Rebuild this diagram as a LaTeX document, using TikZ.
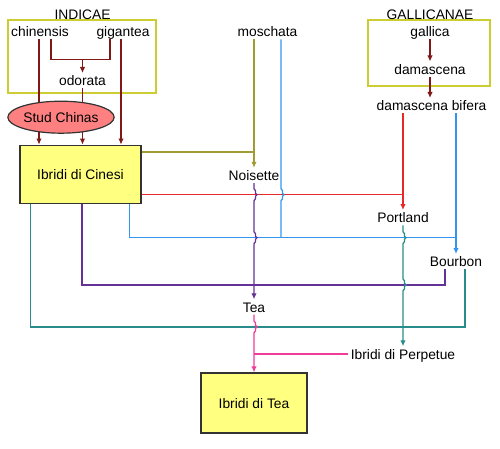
\documentclass[tikz,border=0pt]{standalone}
\usepackage{fontspec}
\setmainfont{Liberation Sans}
\usetikzlibrary{positioning,shapes,calc}
\usetikzlibrary{arrows.meta}
\definecolor{indred}{RGB}{128,24,24}
\definecolor{muskolive}{RGB}{160,155,50}
\definecolor{bourblue}{RGB}{50,150,240}
\definecolor{portred}{RGB}{230,40,40}
\definecolor{teaviolet}{RGB}{100,50,150}
\definecolor{perpteal}{RGB}{40,140,140}
\definecolor{hybpink}{RGB}{240,60,150}
\definecolor{groupline}{RGB}{204,204,51}
\definecolor{hybyellow}{RGB}{255,255,128}
\definecolor{studred}{RGB}{255,128,128}
\tikzset{rose node/.style={inner sep=2.5pt,text height=10pt,text depth=0pt,font=\fontsize{13.8}{16}\selectfont}}
\tikzset{hybrid node/.style={rose node,rectangle,draw=black!80,fill=hybyellow,line width=1.2pt,inner sep=0pt}}
\tikzset{stud node/.style={rose node,ellipse,draw=black!80,fill=studred,line width=1.2pt,inner sep=0pt,minimum width=82pt,minimum height=32pt}}
\tikzset{group box/.style={draw=groupline,line width=1.3pt,inner sep=0pt}}
\tikzset{link/.style={line width=1.3pt}}
\tikzset{hop/.style={insert path={-- ++(1.5,2) -- ++(0,2.5) -- ++(1.5,1.5) -- ++(-1.5,1.5) -- ++(0,2.5) -- ++(-1.5,2)}}}
\begin{document}
\begin{tikzpicture}[>={Latex[length=6pt,width=5.5pt]}, on grid, x=1pt, y=-1pt]
  \useasboundingbox (0,0) rectangle (500,449);
  % Indicae
  \node[group box,minimum width=148pt,minimum height=73pt] (indbox) at (82,56.5) {};
  \node[rose node] (chinensis) at (40,31.7) {chinensis};
  \node[rose node] (indicae) [above right=17.2pt and 42.5pt of chinensis] {INDICAE};
  \node[rose node] (gigantea) [right=83pt of chinensis] {gigantea};
  \node[rose node] (odorata) [below right=49pt and 42.5pt of chinensis] {odorata};
  \node[hybrid node,minimum width=121pt,minimum height=58pt] (cinesi) [below left=93.5pt and 2pt of odorata] {Ibridi di Cinesi};
  % Gallicanae
  \node[rose node] (moschata) [right=144.5pt of gigantea] {moschata};
  \node[group box,minimum width=122pt,minimum height=66pt] (galbox) at (429,53) {};
  \node[rose node] (gallica) [right=162.5pt of moschata] {gallica};
  \node[rose node] (gallicanae) [above=17.2pt of gallica] {GALLICANAE};
  \node[rose node] (damascena) [below=37.5pt of gallica] {damascena};
  \node[rose node] (bifera) [below right=36.5pt and 1.5pt of damascena] {damascena bifera};
  % hybrids
  \node[rose node] (noisette) [below left=143.8pt and 13.5pt of moschata] {Noisette};
  \node[rose node] (portland) [below left=112pt and 28.5pt of bifera] {Portland};
  \node[rose node] (bourbon) [below right=156pt and 24.5pt of bifera] {Bourbon};
  \node[rose node] (tea) [below=131.5pt of noisette] {Tea};
  \node[rose node] (perpetue) [below right=47pt and 149pt of tea] {Ibridi di Perpetue};
  \node[hybrid node,minimum width=106pt,minimum height=60pt] (teabox) [below=96pt of tea] {Ibridi di Tea};

  % chinensis, gigantea, odorata
  \coordinate (chinout) at ([xshift=-1pt]chinensis.south);
  \coordinate (gigout) at ([xshift=-2pt]gigantea.south);
  \draw[link,indred,->] (chinout) -- (chinout |- cinesi.north);
  \draw[link,indred,->] (gigout) -- (gigout |- cinesi.north);
  \coordinate[above=21.5pt of odorata] (mix);
  \draw[link,indred] ([xshift=11pt]chinensis.south) |- (mix) -| ([xshift=-13pt]gigantea.south);
  \draw[link,indred,->] (mix) -- (odorata);
  \node[stud node] (stud) [below left=36.5pt and 21.5pt of odorata] {Stud Chinas};
  \draw[link,indred] (odorata) -- (odorata |- stud.33);
  \draw[link,indred,->] (odorata |- stud.-33) -- (odorata |- cinesi.north);
  \draw[link,indred,->] (gallica) -- (damascena);
  \draw[link,indred,->] (damascena) -- (damascena |- bifera.north);

  % Noisette
  \coordinate[above=23.5pt of noisette] (olivejoin);
  \coordinate (muskout) at ([xshift=-13.5pt]moschata.south);
  \draw[link,muskolive] (cinesi.east |- olivejoin) -- (olivejoin);
  \draw[link,muskolive] (muskout) -- (olivejoin);
  \draw[link,muskolive,->] (olivejoin) -- (noisette);

  % Portland
  \coordinate[above=23pt of portland] (redjoin);
  \draw[link,portred] (cinesi.east |- redjoin) -- (redjoin);
  \draw[link,portred] (bifera.south -| redjoin) -- (redjoin);
  \draw[link,portred,->] (redjoin) -- (portland);

  % Bourbon
  \coordinate[above=24pt of bourbon] (bluejoin);
  \coordinate (cinblue) at ([xshift=-12pt]cinesi.south east);
  \coordinate (muskblue) at ([xshift=13.5pt]moschata.south);
  \draw[link,bourblue] (cinblue) |- (bluejoin);
  \draw[link,bourblue] (bifera.south -| bluejoin) -- (bluejoin);
  \draw[link,bourblue] (muskblue) -- ($(muskblue |- redjoin)-(0,6)$) [hop] -- (muskblue |- bluejoin);
  \draw[link,bourblue,->] (bluejoin) -- (bourbon);

  % Tea
  \coordinate (violetrow) at ([xshift=-11pt,yshift=-15.5pt]bourbon.south);
  \draw[link,teaviolet] ([xshift=1.5pt]cinesi.south) |- (violetrow) -- ([xshift=-11pt]bourbon.south);
  \draw[link,teaviolet,->] (noisette) -- ($(noisette |- redjoin)-(0,6)$) [hop]
    -- ($(noisette |- bluejoin)-(0,6)$) [hop] -- (tea);

  % Ibridi di Perpetue
  \coordinate (tealrow) at ([xshift=9pt,yshift=-57.5pt]bourbon.south);
  \draw[link,perpteal] ([xshift=11pt]cinesi.south west) |- (tealrow) -- ([xshift=9pt]bourbon.south);
  \draw[link,perpteal,->] (portland) -- ($(portland |- bluejoin)-(0,6)$) [hop]
    -- ($(portland |- violetrow)-(0,6)$) [hop] -- (perpetue);

  % Ibridi di Tea
  \draw[link,hybpink,->] (tea) -- ($(tea |- tealrow)-(0,6)$) [hop] -- (teabox);
  \draw[link,hybpink] (perpetue) -- (perpetue -| tea);
\end{tikzpicture}
\end{document}
